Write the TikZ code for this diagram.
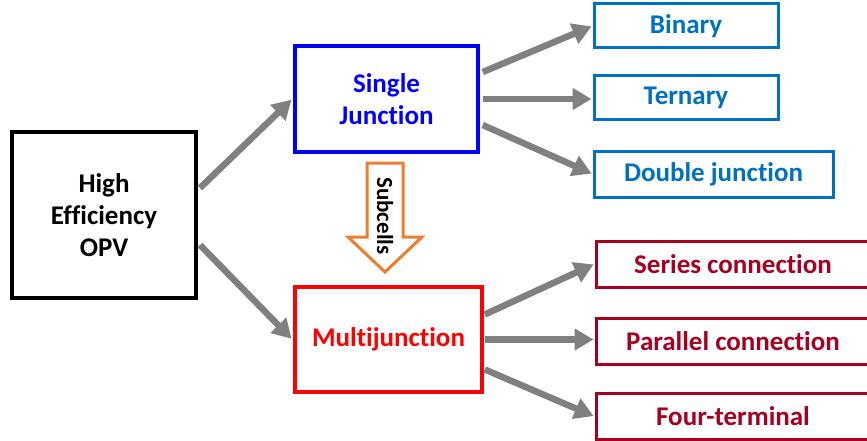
\documentclass[tikz,border=0pt]{standalone}
\usepackage{fontspec}
\setmainfont{Carlito}[Ligatures=NoCommon]
\usetikzlibrary{arrows.meta}
\definecolor{sjblue}{RGB}{0,0,255}
\definecolor{leafblue}{RGB}{0,112,192}
\definecolor{mjred}{RGB}{255,0,0}
\definecolor{leafred}{RGB}{165,0,33}
\definecolor{arrgray}{RGB}{128,128,128}
\definecolor{subor}{RGB}{237,125,49}
\tikzset{
  box/.style={draw, line width=3pt, fill=white, align=center, inner sep=0pt,
    font=\fontsize{27}{32}\selectfont\bfseries},
  rootbox/.style={box, draw=black, line width=4pt, text=black},
  sjbox/.style={box, draw=sjblue, line width=3.5pt, text=sjblue},
  mjbox/.style={box, draw=mjred, line width=3.5pt, text=mjred},
  bluebox/.style={box, draw=leafblue, text=leafblue, minimum height=44pt},
  redbox/.style={box, draw=leafred, text=leafred, minimum height=46pt},
  link/.style={draw=arrgray, line width=6.5pt,
    -{Triangle[length=19pt,width=21pt]}, shorten >=1pt},
}
\begin{document}
\begin{tikzpicture}[x=1pt,y=-1pt]
\useasboundingbox (0,0) rectangle (867,441);
\clip (0,0) rectangle (867,441);

% main categories
\node[rootbox, minimum width=184pt, minimum height=166pt] (opv) at (104,215) {High\\Efficiency\\OPV};
\node[sjbox, minimum width=183pt, minimum height=106pt] (sj) at (386.5,99) {Single\\Junction};
\node[mjbox, minimum width=187pt, minimum height=105pt] (mj) at (388.5,339.5) {Multijunction};

% single-junction variants
\node[bluebox, minimum width=184pt] (bin) at (686,26) {Binary};
\node[bluebox, minimum width=184pt] (ter) at (686,97.5) {Ternary};
\node[bluebox, minimum width=239pt, minimum height=46pt] (dbl) at (713.5,174) {Double junction};

% multijunction variants
\node[redbox, minimum width=274pt] (ser) at (733,264) {Series connection};
\node[redbox, minimum width=274pt] (par) at (733,341) {Parallel connection};
\node[redbox, minimum width=274pt] (four) at (733,416.5) {Four-terminal};

% connectors
\draw[link] ([xshift=2pt,yshift=27pt]opv.east) -- ([xshift=-1pt]sj.west);
\draw[link] ([xshift=2pt,yshift=-30pt]opv.east) -- ([xshift=-1pt]mj.west);
\draw[link] ([xshift=3pt,yshift=27pt]sj.east) -- (bin.west);
\draw[link] ([xshift=3pt]sj.east) -- (sj.east -| ter.west);
\draw[link] ([xshift=3pt,yshift=-26pt]sj.east) -- (dbl.west);
\draw[link] ([xshift=1pt,yshift=25pt]mj.east) -- (ser.west);
\draw[link] ([xshift=1pt]mj.east) -- (mj.east -| par.west);
\draw[link] ([xshift=1pt,yshift=-30pt]mj.east) -- (four.west);

% block arrow from single junction down to multijunction
\draw[draw=subor, line width=3pt, fill=white, line join=miter]
  (367,163) -- (403,163) -- (403,237) -- (422,237) -- (385,272)
  -- (348,237) -- (367,237) -- cycle;
\node[rotate=-90, font=\fontsize{23}{26}\selectfont\bfseries, inner sep=0pt] (sub) at (385,216) {Subcells};
\end{tikzpicture}
\end{document}
